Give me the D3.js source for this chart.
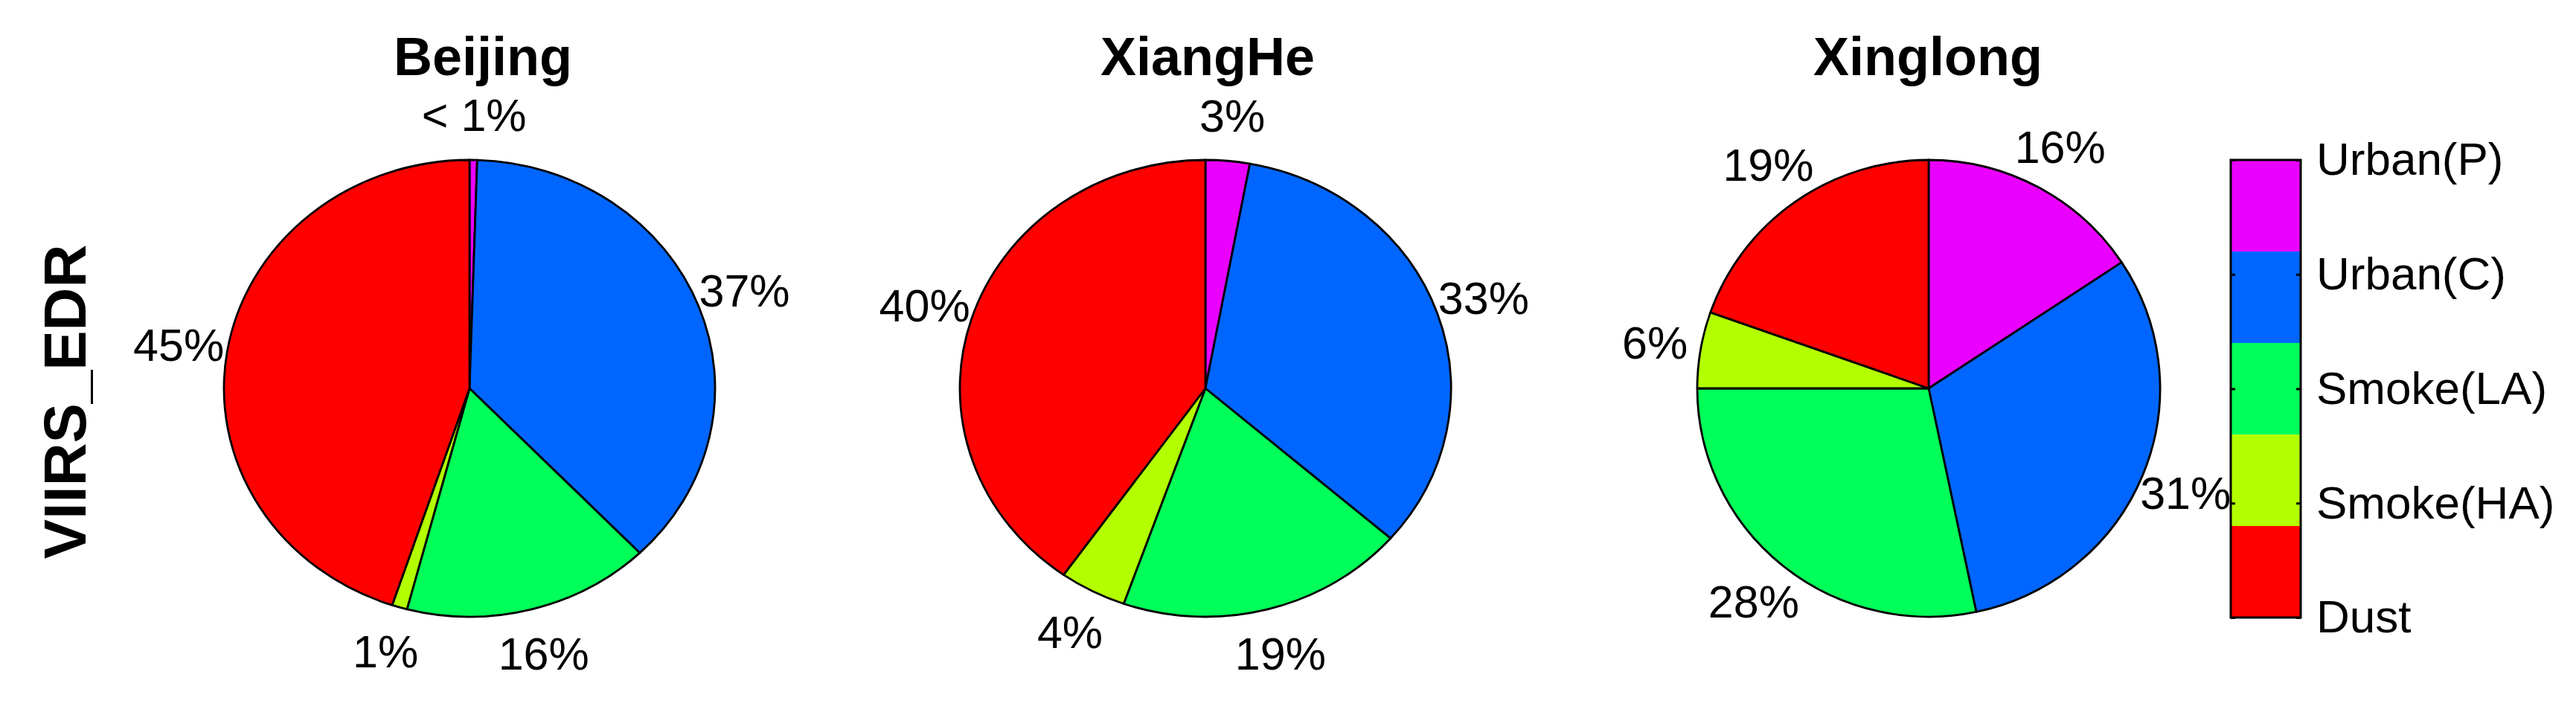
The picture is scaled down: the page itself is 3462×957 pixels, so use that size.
<!DOCTYPE html>
<html>
<head>
<meta charset="utf-8">
<script src="https://cdn.jsdelivr.net/npm/d3@7"></script>
<style>
  html, body { margin: 0; padding: 0; background: #fff; }
  svg { display: block; font-family: "Liberation Sans", Arial, sans-serif; }
</style>
</head>
<body>
<div id="chart"></div>
<script>
// Aerosol type shares per site (percent), clockwise from 12 o'clock
const categories = ['Urban(P)', 'Urban(C)', 'Smoke(LA)', 'Smoke(HA)', 'Dust'];
const sites = ['Beijing', 'XiangHe', 'Xinglong'];
const beijingValues = [0.5, 37.3, 16.3, 1.0, 44.9];
const xiangheValues = [2.9, 33.5, 19.0, 4.4, 40.2];
const xinglongValues = [15.7, 31.0, 28.3, 5.4, 19.6];
const beijingLabels = ['< 1%', '37%', '16%', '1%', '45%'];
const xiangheLabels = ['3%', '33%', '19%', '4%', '40%'];
const xinglongLabels = ['16%', '31%', '28%', '6%', '19%'];
const rowLabel = 'VIIRS_EDR';

// Styling / layout (kept apart from the data)
const palette = ['#EA00FF', '#0066FF', '#00FF58', '#B3FF00', '#FF0000'];
const W = 3462, H = 957;
const panels = [
  { cx: 631, cy: 522, rx: 330, ry: 307, titleX: 649 },
  { cx: 1620, cy: 522, rx: 330, ry: 307, titleX: 1623 },
  { cx: 2592, cy: 522, rx: 311, ry: 307, titleX: 2591 }
];
const seriesValues = [beijingValues, xiangheValues, xinglongValues];
const seriesLabels = [beijingLabels, xiangheLabels, xinglongLabels];

const color = d3.scaleOrdinal().domain(categories).range(palette);

const svg = d3.select('#chart')
  .append('svg')
  .attr('width', W)
  .attr('height', H)
  .attr('viewBox', `0 0 ${W} ${H}`);

svg.append('rect').attr('width', W).attr('height', H).attr('fill', '#fff');

// Row label
svg.append('text')
  .attr('transform', 'translate(115,540) rotate(-90)')
  .attr('text-anchor', 'middle')
  .attr('font-size', '80px')
  .attr('font-weight', 'bold')
  .attr('fill', '#000')
  .text(rowLabel);

const pie = d3.pie()
  .sort(null)
  .value(d => d.value)
  .startAngle(0)
  .endAngle(2 * Math.PI);

sites.forEach((site, i) => {
  const p = panels[i];
  const data = categories.map((c, k) => ({
    category: c,
    value: seriesValues[i][k],
    label: seriesLabels[i][k]
  }));
  const arcs = pie(data);

  // draw on a circle of radius ry, then stretch x into an ellipse
  const arc = d3.arc().innerRadius(0).outerRadius(p.ry);
  const labelArc = d3.arc().innerRadius(p.ry * 1.2).outerRadius(p.ry * 1.2);
  const sx = p.rx / p.ry;

  const g = svg.append('g')
    .attr('transform', `translate(${p.cx},${p.cy})`);

  g.append('g')
    .attr('transform', `scale(${sx},1)`)
    .selectAll('path')
    .data(arcs)
    .join('path')
    .attr('d', arc)
    .attr('fill', d => color(d.data.category))
    .attr('stroke', '#000')
    .attr('stroke-width', 2.8)
    .attr('stroke-linejoin', 'round')
    .attr('vector-effect', 'non-scaling-stroke');

  g.selectAll('text.pct')
    .data(arcs)
    .join('text')
    .attr('class', 'pct')
    .attr('x', d => labelArc.centroid(d)[0] * sx)
    .attr('y', d => labelArc.centroid(d)[1])
    .attr('dy', '0.36em')
    .attr('text-anchor', 'middle')
    .attr('font-size', '61px')
    .attr('fill', '#000')
    .text(d => d.data.label);

  // Title
  svg.append('text')
    .attr('x', p.titleX)
    .attr('y', 101)
    .attr('text-anchor', 'middle')
    .attr('font-size', '72px')
    .attr('font-weight', 'bold')
    .attr('fill', '#000')
    .text(site);
});

// Colorbar legend
const cbX = 2998, cbW = 94, cbTop = 215, cbBottom = 830;
const band = d3.scaleBand().domain(categories).range([cbTop, cbBottom]);
const tickScale = d3.scalePoint().domain(categories).range([cbTop, cbBottom]);

const cb = svg.append('g');
cb.selectAll('rect.seg')
  .data(categories)
  .join('rect')
  .attr('class', 'seg')
  .attr('x', cbX)
  .attr('y', d => band(d))
  .attr('width', cbW)
  .attr('height', band.bandwidth() + 0.5)
  .attr('fill', d => color(d));

cb.append('rect')
  .attr('x', cbX)
  .attr('y', cbTop)
  .attr('width', cbW)
  .attr('height', cbBottom - cbTop)
  .attr('fill', 'none')
  .attr('stroke', '#000')
  .attr('stroke-width', 3);

const rightAxis = cb.append('g')
  .attr('transform', `translate(${cbX + cbW},0)`)
  .call(d3.axisRight(tickScale).tickSize(-6).tickPadding(21));
rightAxis.select('.domain').remove();
rightAxis.selectAll('line').attr('stroke', '#000').attr('stroke-width', 3);
rightAxis.selectAll('text')
  .attr('font-size', '62px')
  .attr('font-family', '"Liberation Sans", Arial, sans-serif')
  .attr('fill', '#000');

const leftAxis = cb.append('g')
  .attr('transform', `translate(${cbX},0)`)
  .call(d3.axisLeft(tickScale).tickSize(-6).tickFormat(''));
leftAxis.select('.domain').remove();
leftAxis.selectAll('line').attr('stroke', '#000').attr('stroke-width', 3);
</script>
</body>
</html>
